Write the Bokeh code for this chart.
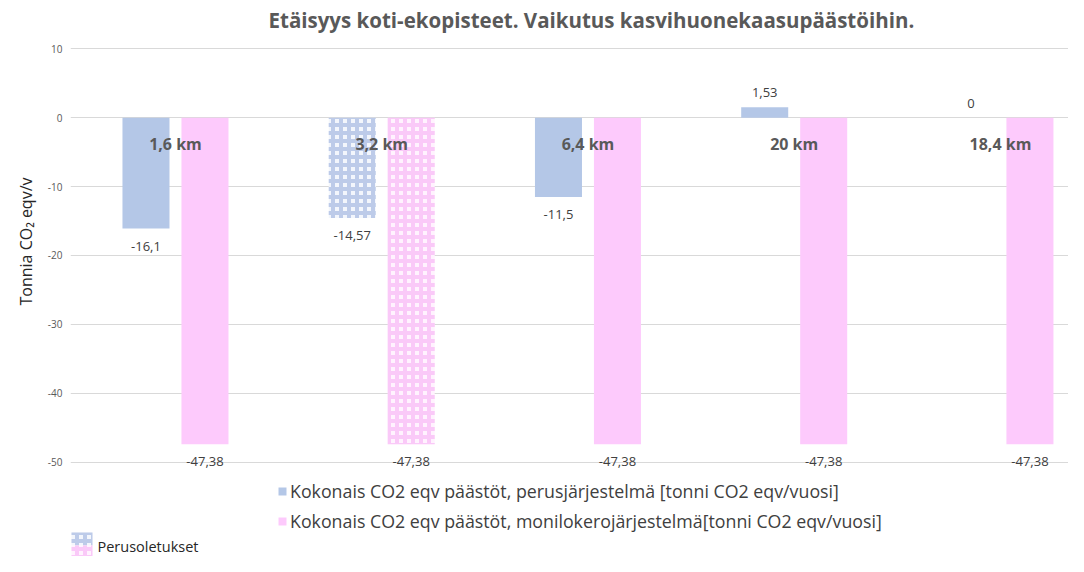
from bokeh.plotting import figure
from bokeh.models import (ColumnDataSource, FixedTicker, Legend, LegendItem,
                          BoxAnnotation, Label, Title, PrintfTickFormatter)
from bokeh.transform import dodge
from bokeh.embed import file_html
from bokeh.resources import INLINE
from bokeh.core.properties import value

# ---------------- data ----------------
categories = ["1,6 km", "3,2 km", "6,4 km", "20 km", "18,4 km"]
basic_system = [-16.1, -14.57, -11.5, 1.53, 0.0]
multi_system = [-47.38, -47.38, -47.38, -47.38, -47.38]
is_baseline = [False, True, False, False, False]
y_ticks = [-50, -40, -30, -20, -10, 0, 10]
series_names = [
    "Kokonais CO2 eqv päästöt, perusjärjestelmä [tonni CO2 eqv/vuosi]",
    "Kokonais CO2 eqv päästöt, monilokerojärjestelmä[tonni CO2 eqv/vuosi]",
]
baseline_name = "Perusoletukset"
title_text = "Etäisyys koti-ekopisteet. Vaikutus kasvihuonekaasupäästöihin."
y_label = "Tonnia CO₂ eqv/v"

# ---------------- styling ----------------
FONT = "Open Sans"
BLUE = "#b4c7e7"
PINK = "#fdcafc"
BLUE_BG = "#f3f6fc"
PINK_BG = "#fff2fe"
BLUE_HATCH = "#8fa8d8"
PINK_HATCH = "#f6a8f2"
TXT = "#595959"
DODGE = 0.143
BAR_W = 0.228


def fmt(v):
    return f"{v:g}".replace(".", ",")


idx = list(range(len(categories)))


def bar_source(vals, base_col, light_col):
    return ColumnDataSource(dict(
        x=idx,
        top=vals,
        fill=[light_col if b else base_col for b in is_baseline],
        hatch=["+" if b else " " for b in is_baseline],
        label=[fmt(v) for v in vals],
        baseline=["top" if v < 0 else "bottom" for v in vals],
        yoff=[13 if v < 0 else -10 for v in vals],
    ))


src_b = bar_source(basic_system, BLUE, BLUE_BG)
src_p = bar_source(multi_system, PINK, PINK_BG)
src_c = ColumnDataSource(dict(x=idx, y=[-3.75] * len(idx), text=categories))

p = figure(
    width=1068, height=556,
    x_range=(-0.509, 4.33), y_range=(-63.69, 17.01),
    output_backend="svg", toolbar_location=None,
    min_border_left=70, min_border_right=0, min_border_top=0, min_border_bottom=0,
)
p.outline_line_color = None

rb = p.vbar(x=dodge("x", -DODGE), top="top", bottom=0, width=BAR_W, source=src_b,
            fill_color="fill", line_color=None, hatch_pattern="hatch",
            hatch_color=BLUE_HATCH, hatch_alpha=0.55, hatch_scale=8, hatch_weight=4)
rp = p.vbar(x=dodge("x", DODGE), top="top", bottom=0, width=BAR_W, source=src_p,
            fill_color="fill", line_color=None, hatch_pattern="hatch",
            hatch_color=PINK_HATCH, hatch_alpha=0.55, hatch_scale=8, hatch_weight=4)

# value labels
for src, off in ((src_b, -DODGE), (src_p, DODGE)):
    p.text(x=dodge("x", off), y="top", text="label", source=src,
           text_align="center", text_baseline="baseline", y_offset="yoff",
           text_font=value(FONT), text_font_size="13px", text_color="#404040")

# category labels
p.text(x="x", y="y", text="text", source=src_c, text_align="center",
       text_baseline="middle", text_font=value(FONT), text_font_size="16px",
       text_font_style="bold", text_color=TXT)

# axes
p.xaxis.visible = False
p.xgrid.visible = False
p.ygrid.grid_line_color = "#d9d9d9"
p.ygrid.ticker = FixedTicker(ticks=y_ticks)
ax = p.yaxis[0]
ax.ticker = FixedTicker(ticks=y_ticks)
ax.formatter = PrintfTickFormatter(format="%d")
ax.axis_line_color = None
ax.major_tick_line_color = None
ax.minor_tick_line_color = None
ax.major_tick_in = 0
ax.major_tick_out = 0
ax.major_label_text_font = FONT
ax.major_label_text_font_size = "10px"
ax.major_label_text_color = TXT
ax.major_label_standoff = 8

p.add_layout(Title(text=y_label, align="left", offset=251, standoff=16,
                   text_font=FONT, text_font_size="16px", text_font_style="normal",
                   text_color="#262626"), "left")

# chart title (drawn inside the frame area above the plotted values)
p.add_layout(Label(x=198, y=536.5, x_units="screen", y_units="screen",
                   text=title_text, text_font=FONT, text_font_size="20.5px",
                   text_font_style="bold", text_color=TXT, text_baseline="middle"))

# legend
legend = Legend(
    items=[LegendItem(label=series_names[0], renderers=[rb], index=0),
           LegendItem(label=series_names[1], renderers=[rp], index=0)],
    location=(207, 23), orientation="vertical",
    glyph_width=10, glyph_height=10, label_height=22, label_standoff=3,
    spacing=6, padding=0, margin=0,
    label_text_font=FONT, label_text_font_size="17.8px", label_text_color="#404040",
    border_line_color=None, background_fill_alpha=0,
)
p.add_layout(legend)

# "Perusoletukset" key
key_common = dict(left=1, right=22, left_units="screen", right_units="screen",
                  top_units="screen", bottom_units="screen", fill_alpha=1,
                  line_color=None, hatch_pattern="+", hatch_alpha=0.55,
                  hatch_scale=8, hatch_weight=4)
p.add_layout(BoxAnnotation(top=24, bottom=11, fill_color=BLUE_BG,
                           hatch_color=BLUE_HATCH, **key_common))
p.add_layout(BoxAnnotation(top=11, bottom=0, fill_color=PINK_BG,
                           hatch_color=PINK_HATCH, **key_common))
p.add_layout(Label(x=27, y=10, x_units="screen", y_units="screen",
                   text=baseline_name, text_font=FONT, text_font_size="14.5px",
                   text_baseline="middle", text_color="#262626"))

open("out.html", "w").write(file_html(p, INLINE))
